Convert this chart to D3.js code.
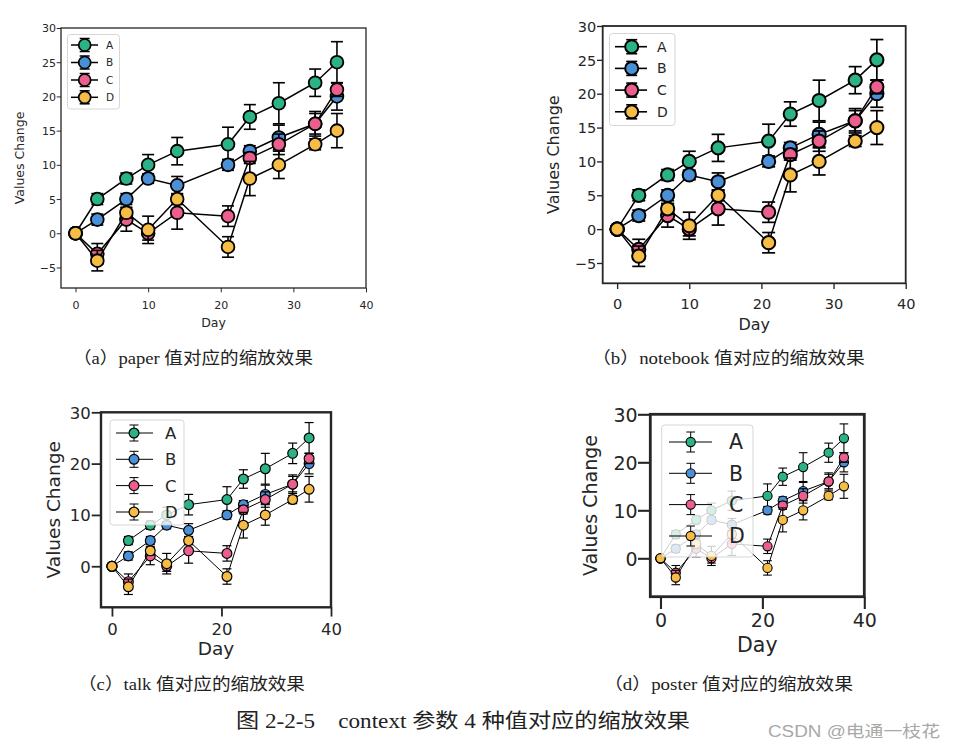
<!DOCTYPE html>
<html>
<head>
<meta charset="utf-8">
<script src="https://cdn.jsdelivr.net/npm/d3@7"></script>
<style>
  html, body { margin: 0; padding: 0; background: #ffffff; }
  svg { display: block; }
</style>
</head>
<body>
<svg id="chart" width="954" height="747"></svg>
<script>
// ---------------- DATA ----------------
const days = [0, 3, 7, 10, 14, 21, 24, 28, 33, 36];
const seriesNames = ["A", "B", "C", "D"];
const valuesA = [0, 5, 8, 10, 12, 13, 17, 19, 22, 25];
const valuesB = [0, 2, 5, 8, 7, 10, 12, 14, 16, 20];
const valuesC = [0, -3, 2, 0, 3, 2.5, 11, 13, 16, 21];
const valuesD = [0, -4, 3, 0.5, 5, -2, 8, 10, 13, 15];
const errA = [0, 0.8, 0.8, 1.5, 2, 2.5, 1.8, 3, 2, 3];
const errB = [0, 0.8, 0.8, 0.7, 1.3, 0.8, 0.8, 1.8, 1.8, 2];
const errC = [0, 1.5, 1.7, 1, 2.4, 1.5, 0.8, 1.5, 1.5, 1];
const errD = [0, 1.5, 0.8, 2, 0.8, 1.5, 2.5, 2, 0.8, 2.5];
const seriesColors = ["#2cb287", "#4a90d6", "#eb5f8e", "#f5bd45"];
const xTicksFine = [0, 10, 20, 30, 40];
const xTicksCoarse = [0, 20, 40];
const yTicksFine = [-5, 0, 5, 10, 15, 20, 25, 30];
const yTicksCoarse = [0, 10, 20, 30];
const xLabel = "Day";
const yLabel = "Values Change";
const panelCaptions = [
  "（a）paper 值对应的缩放效果",
  "（b）notebook 值对应的缩放效果",
  "（c）talk 值对应的缩放效果",
  "（d）poster 值对应的缩放效果"
];
const figureTitle = "图 2-2-5　context 参数 4 种值对应的缩放效果";
const watermark = "CSDN @电通一枝花";

const series = seriesNames.map((name, i) => ({
  name,
  color: seriesColors[i],
  values: [valuesA, valuesB, valuesC, valuesD][i],
  errs: [errA, errB, errC, errD][i]
}));

// ---------------- LAYOUT (styles / positions) ----------------
const panels = [
  { box: [61, 28, 366, 288], xTicks: xTicksFine, yTicks: yTicksFine,
    tickFs: 11, labFs: 12.5, tickLen: 4.3, xGap: 13.3, yGap: 5, spineW: 1.3,
    xLabBase: 327, yLabBase: 24, lineW: 1.5, r: 6.4, mStroke: 1.8, errW: 1.6, capHalf: 6,
    leg: { box: [67.5, 34.5, 119.5, 109], ys: [45, 62.5, 80, 97.3], lx0: 71, lx1: 98, mx: 84.7, tx: 106,
           fs: 10.5, r: 6, mStroke: 1.7, errHalf: 6.5, capHalf: 5, lineW: 1.5 } },
  { box: [602.7, 26, 905.7, 283.3], xTicks: xTicksFine, yTicks: yTicksFine,
    tickFs: 14.5, labFs: 16, tickLen: 5.7, xGap: 15, yGap: 6.5, spineW: 1.8,
    xLabBase: 330, yLabBase: 559, lineW: 1.5, r: 6.6, mStroke: 2, errW: 1.7, capHalf: 6.5,
    leg: { box: [609.5, 33.5, 675, 125.5], ys: [46.7, 68.4, 90.1, 111.8], lx0: 615, lx1: 647, mx: 631.7, tx: 657,
           fs: 14, r: 6.5, mStroke: 2, errHalf: 7, capHalf: 5.5, lineW: 1.6 } },
  { box: [101, 412.3, 331, 607.3], xTicks: xTicksCoarse, yTicks: yTicksCoarse,
    tickFs: 16.5, labFs: 18.5, tickLen: 9.3, xGap: 15.3, yGap: 10.3, spineW: 2.4,
    xLabBase: 655, yLabBase: 59.5, lineW: 1, r: 4.9, mStroke: 1.2, errW: 1.2, capHalf: 4.5,
    leg: { box: [110, 420, 184, 525], ys: [433, 459.3, 485.6, 512], lx0: 116, lx1: 153, mx: 134, tx: 165,
           fs: 16.5, r: 4.9, mStroke: 1.2, errHalf: 8, capHalf: 4.5, lineW: 1 } },
  { box: [650.3, 414.3, 864.3, 596.7], xTicks: xTicksCoarse, yTicks: yTicksCoarse,
    tickFs: 19, labFs: 19, tickLen: 12.3, xGap: 16.7, yGap: 12.6, spineW: 2.8,
    xLabBase: 651.7, yLabBase: 597, xLabFs: 20.5, lineW: 1, r: 4.6, mStroke: 1.1, errW: 1.1, capHalf: 4.3,
    leg: { box: [661.7, 425, 753, 557], ys: [442, 473.3, 504.6, 536], lx0: 669, lx1: 712, mx: 690.7, tx: 729,
           fs: 20.5, r: 4.6, mStroke: 1.1, errHalf: 10, capHalf: 4.3, lineW: 1 } }
];

const svg = d3.select("#chart");
const ink = "#262626";
const tickFont = "'DejaVu Sans', sans-serif";

panels.forEach((p, pi) => {
  const [L, T, R, B] = p.box;
  const x = d3.scaleLinear().domain([-2, 40]).range([L, R]);
  const y = d3.scaleLinear().domain([-8, 30]).range([B, T]);
  const g = svg.append("g");

  // data
  const line = d3.line().x((d, i) => x(days[i])).y(d => y(d));
  series.forEach(s => {
    const sg = g.append("g");
    // error bars
    days.forEach((dv, i) => {
      const e = s.errs[i];
      if (e <= 0) return;
      const cx = x(dv), y0 = y(s.values[i] - e), y1 = y(s.values[i] + e);
      sg.append("line").attr("x1", cx).attr("x2", cx).attr("y1", y0).attr("y2", y1)
        .attr("stroke", "#000").attr("stroke-width", p.errW);
      [y0, y1].forEach(yy => sg.append("line")
        .attr("x1", cx - p.capHalf).attr("x2", cx + p.capHalf).attr("y1", yy).attr("y2", yy)
        .attr("stroke", "#000").attr("stroke-width", p.errW));
    });
    sg.append("path").datum(s.values).attr("d", line)
      .attr("fill", "none").attr("stroke", "#000").attr("stroke-width", p.lineW);
    sg.selectAll("circle").data(s.values).join("circle")
      .attr("cx", (d, i) => x(days[i])).attr("cy", d => y(d)).attr("r", p.r)
      .attr("fill", s.color).attr("stroke", "#000").attr("stroke-width", p.mStroke);
  });

  // axes
  const xa = g.append("g").attr("transform", `translate(0,${B})`)
    .call(d3.axisBottom(x).tickValues(p.xTicks).tickSize(p.tickLen).tickFormat(d => d < 0 ? "\u2212" + Math.abs(d) : d));
  xa.select(".domain").remove();
  xa.selectAll("line").attr("stroke", ink).attr("stroke-width", p.spineW * 0.75);
  xa.selectAll("text").attr("y", p.xGap).attr("dy", "0.73em")
    .attr("fill", ink).style("font-family", tickFont).style("font-size", p.tickFs + "px");

  const ya = g.append("g").attr("transform", `translate(${L},0)`)
    .call(d3.axisLeft(y).tickValues(p.yTicks).tickSize(p.tickLen).tickFormat(d => d < 0 ? "\u2212" + Math.abs(d) : d));
  ya.select(".domain").remove();
  ya.selectAll("line").attr("stroke", ink).attr("stroke-width", p.spineW * 0.75);
  ya.selectAll("text").attr("x", -p.yGap).attr("dy", "0.36em")
    .attr("fill", ink).style("font-family", tickFont).style("font-size", p.tickFs + "px");

  // frame
  g.append("rect").attr("x", L).attr("y", T).attr("width", R - L).attr("height", B - T)
    .attr("fill", "none").attr("stroke", ink).attr("stroke-width", p.spineW);

  // axis labels
  g.append("text").attr("x", (L + R) / 2).attr("y", p.xLabBase).attr("text-anchor", "middle")
    .attr("fill", ink).style("font-family", tickFont).style("font-size", (p.xLabFs || p.labFs) + "px").text(xLabel);
  g.append("text").attr("transform", `translate(${p.yLabBase},${(T + B) / 2}) rotate(-90)`)
    .attr("text-anchor", "middle")
    .attr("fill", ink).style("font-family", tickFont).style("font-size", p.labFs + "px").text(yLabel);

  // legend
  const lg = p.leg;
  const leg = g.append("g");
  leg.append("rect").attr("x", lg.box[0]).attr("y", lg.box[1])
    .attr("width", lg.box[2] - lg.box[0]).attr("height", lg.box[3] - lg.box[1])
    .attr("rx", 3).attr("fill", "#ffffff").attr("fill-opacity", 0.8)
    .attr("stroke", "#cccccc").attr("stroke-opacity", 0.8).attr("stroke-width", 1);
  series.forEach((s, i) => {
    const yy = lg.ys[i];
    leg.append("line").attr("x1", lg.lx0).attr("x2", lg.lx1).attr("y1", yy).attr("y2", yy)
      .attr("stroke", "#000").attr("stroke-width", lg.lineW);
    leg.append("line").attr("x1", lg.mx).attr("x2", lg.mx).attr("y1", yy - lg.errHalf).attr("y2", yy + lg.errHalf)
      .attr("stroke", "#000").attr("stroke-width", lg.lineW);
    [yy - lg.errHalf, yy + lg.errHalf].forEach(cy => leg.append("line")
      .attr("x1", lg.mx - lg.capHalf).attr("x2", lg.mx + lg.capHalf).attr("y1", cy).attr("y2", cy)
      .attr("stroke", "#000").attr("stroke-width", lg.lineW));
    leg.append("circle").attr("cx", lg.mx).attr("cy", yy).attr("r", lg.r)
      .attr("fill", s.color).attr("stroke", "#000").attr("stroke-width", lg.mStroke);
    leg.append("text").attr("x", lg.tx).attr("y", yy).attr("dy", "0.36em")
      .attr("fill", ink).style("font-family", tickFont).style("font-size", lg.fs + "px").text(s.name);
  });
});

// captions
const capFont = "'Liberation Serif', 'Noto Sans CJK SC', serif";
const capPos = [[73, 313, 363.5], [592, 865, 363.5], [78, 305, 689.5], [604, 853, 689.5]];
panelCaptions.forEach((c, i) => {
  const [x0, x1, yb] = capPos[i];
  svg.append("text").attr("x", x0).attr("y", yb)
    .attr("textLength", x1 - x0).attr("lengthAdjust", "spacingAndGlyphs")
    .attr("fill", "#222").style("font-family", capFont).style("font-size", "17px").text(c);
});
svg.append("text").attr("x", 236).attr("y", 727.5)
  .attr("textLength", 454).attr("lengthAdjust", "spacingAndGlyphs")
  .attr("fill", "#222").style("font-family", capFont).style("font-size", "20px").text(figureTitle);
svg.append("text").attr("x", 768).attr("y", 737)
  .attr("textLength", 172).attr("lengthAdjust", "spacingAndGlyphs")
  .attr("fill", "#a8a8a8").style("font-family", "'Liberation Sans', 'Noto Sans CJK SC', sans-serif")
  .style("font-size", "16px").text(watermark);
</script>
</body>
</html>
